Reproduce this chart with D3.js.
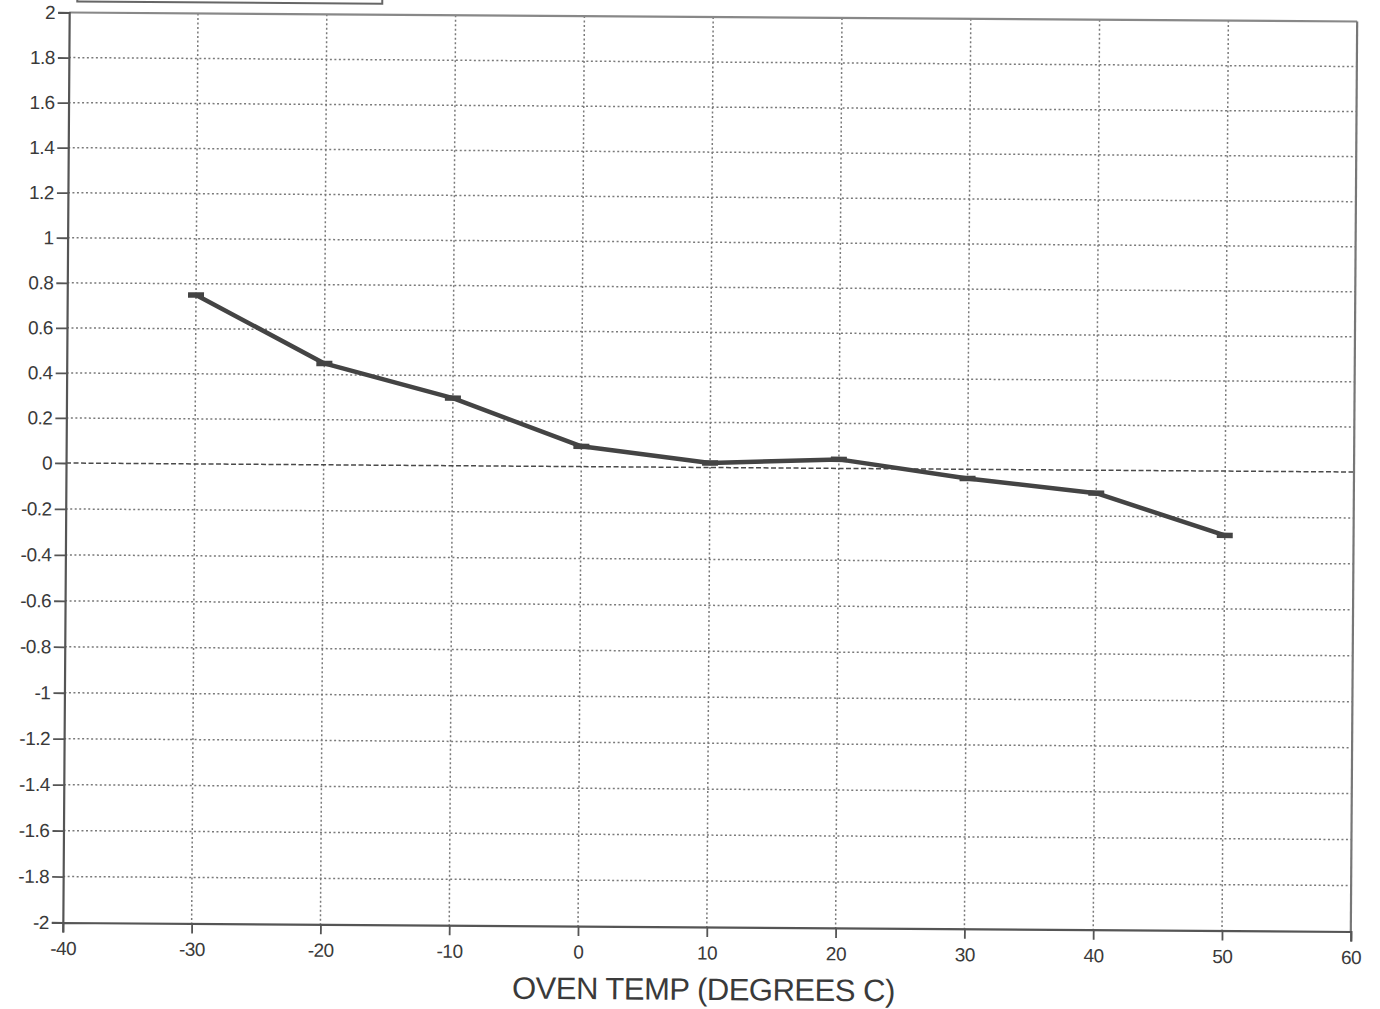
<!DOCTYPE html>
<html>
<head>
<meta charset="utf-8">
<script src="https://cdn.jsdelivr.net/npm/d3@7"></script>
<style>
  body { margin: 0; background: #fff; }
  text { font-family: "Liberation Sans", Arial, sans-serif; fill: #3a3a3a; }
</style>
</head>
<body>
<div id="chart"></div>
<script>
// values
var ovenTemp = [-30, -20, -10, 0, 10, 20, 30, 40, 50];
var deviation = [0.75, 0.45, 0.30, 0.09, 0.02, 0.04, -0.04, -0.10, -0.28];
var xTicks = [-40, -30, -20, -10, 0, 10, 20, 30, 40, 50, 60];
var yTicks = [-2, -1.8, -1.6, -1.4, -1.2, -1, -0.8, -0.6, -0.4, -0.2, 0, 0.2, 0.4, 0.6, 0.8, 1, 1.2, 1.4, 1.6, 1.8, 2];
var xTitle = "OVEN TEMP (DEGREES C)";

var W = 1380, H = 1009;
var margin = {top: 17, right: 26, bottom: 82, left: 66},
    width = W - margin.left - margin.right,
    height = H - margin.top - margin.bottom;

var svg = d3.select("#chart").append("svg")
    .attr("width", W)
    .attr("height", H);

// the scan sits a little crooked, so tilt the whole plot
var g = svg.append("g")
    .attr("transform", "rotate(0.4," + (margin.left + width / 2) + "," + (margin.top + height / 2) + ") translate(" + margin.left + "," + margin.top + ")");

var x = d3.scaleLinear()
    .domain([-40, 60])
    .range([0, width]);
// scan is stretched a bit below zero
var y = d3.scaleLinear()
    .domain([-2, 0, 2])
    .range([height, 450.5, 0]);

// legend box, mostly cut off above the page
g.append("rect")
    .attr("x", 8)
    .attr("y", -60)
    .attr("width", 305)
    .attr("height", 49)
    .attr("fill", "none")
    .attr("stroke", "#666")
    .attr("stroke-width", 2);

// grid
g.selectAll(".hgrid")
    .data(yTicks.filter(function (d) { return d > -2 && d < 2 && d !== 0; }))
    .enter().append("line")
    .attr("class", "hgrid")
    .attr("x1", 0)
    .attr("x2", width)
    .attr("y1", function (d) { return y(d); })
    .attr("y2", function (d) { return y(d); })
    .attr("stroke", "#7a7a7a")
    .attr("stroke-width", 1.5)
    .attr("stroke-dasharray", "2,2.5");

g.selectAll(".vgrid")
    .data(xTicks.filter(function (d) { return d > -40 && d < 60; }))
    .enter().append("line")
    .attr("class", "vgrid")
    .attr("y1", 0)
    .attr("y2", height)
    .attr("x1", function (d) { return x(d); })
    .attr("x2", function (d) { return x(d); })
    .attr("stroke", "#7a7a7a")
    .attr("stroke-width", 1.5)
    .attr("stroke-dasharray", "2,2.5");

// zero line
g.append("line")
    .attr("x1", 0)
    .attr("x2", width)
    .attr("y1", y(0))
    .attr("y2", y(0))
    .attr("stroke", "#4a4a4a")
    .attr("stroke-width", 1.5)
    .attr("stroke-dasharray", "5,2.5");

// frame
g.append("line").attr("x1", 0).attr("x2", width).attr("y1", 0).attr("y2", 0)
    .attr("stroke", "#888").attr("stroke-width", 2.2);
g.append("line").attr("x1", width).attr("x2", width).attr("y1", 0).attr("y2", height)
    .attr("stroke", "#777").attr("stroke-width", 2.2);

var fmt = function (d) { return String(+d.toFixed(1)); };

var yAxis = d3.axisLeft(y)
    .tickValues(yTicks)
    .tickFormat(fmt)
    .tickSize(11)
    .tickPadding(3);
var xAxis = d3.axisBottom(x)
    .tickValues(xTicks)
    .tickFormat(fmt)
    .tickSize(10)
    .tickPadding(9);

var ya = g.append("g")
    .attr("class", "y axis")
    .call(yAxis);
var xa = g.append("g")
    .attr("class", "x axis")
    .attr("transform", "translate(0," + height + ")")
    .call(xAxis);

[ya, xa].forEach(function (a) {
    a.select(".domain").attr("stroke", "#555").attr("stroke-width", 2.2);
    a.selectAll(".tick line").attr("stroke", "#555").attr("stroke-width", 1.8);
    a.selectAll(".tick text")
        .style("font-family", "'Liberation Sans', Arial, sans-serif")
        .style("font-size", "19px")
        .style("letter-spacing", "-0.5px")
        .attr("fill", "#3a3a3a");
});

g.append("text")
    .attr("x", x(10) - 3)
    .attr("y", height + 73)
    .style("text-anchor", "middle")
    .style("font-size", "31px")
    .style("letter-spacing", "-0.5px")
    .text(xTitle);

// data line
var pts = ovenTemp.map(function (t, i) { return {t: t, v: deviation[i]}; });

g.append("path")
    .datum(pts)
    .attr("fill", "none")
    .attr("stroke", "#444")
    .attr("stroke-width", 4.5)
    .attr("stroke-linejoin", "round")
    .attr("d", d3.line()
        .x(function (d) { return x(d.t); })
        .y(function (d) { return y(d.v); }));

// dash markers at each point
g.selectAll(".mark")
    .data(pts)
    .enter().append("line")
    .attr("class", "mark")
    .attr("x1", function (d) { return x(d.t) - 8; })
    .attr("x2", function (d) { return x(d.t) + 8; })
    .attr("y1", function (d) { return y(d.v); })
    .attr("y2", function (d) { return y(d.v); })
    .attr("stroke", "#444")
    .attr("stroke-width", 5.5);
</script>
</body>
</html>
